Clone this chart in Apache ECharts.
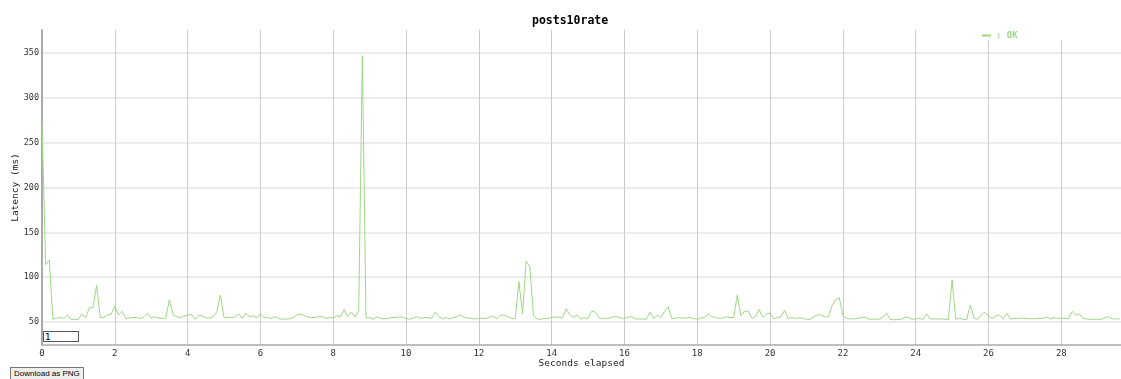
<!DOCTYPE html>
<html>
<head>
<meta charset="utf-8">
<script src="https://cdn.jsdelivr.net/npm/echarts@6/dist/echarts.min.js"></script>
<style>
  html, body { margin: 0; padding: 0; background: #fff; }
  #wrap { position: relative; width: 1121px; height: 379px; overflow: hidden; }
  #chart { position: absolute; left: 0; top: 0; width: 1121px; height: 379px; }
  #num { position: absolute; left: 43px; top: 331px; width: 32px; height: 9px; font: 9px "DejaVu Sans", sans-serif; border: 1px solid #555; padding: 0 1px; margin: 0; outline: none; }
  #dl { position: absolute; left: 10px; top: 367px; height: 14px; padding: 0 3px; font: 8px "Liberation Sans", Arial, sans-serif; border: 1px solid #777; background: #eee; color: #000; line-height: 12px; }
</style>
</head>
<body>
<div id="wrap">
  <div id="chart"></div>
  <input id="num" type="text" value="1">
  <button id="dl">Download as PNG</button>
</div>
<script>
// ---- data ----
const titleText = 'posts10rate';
const seriesName = 'OK';
const xAxisName = 'Seconds elapsed';
const yAxisName = 'Latency (ms)';
const sampleStepSec = 0.1;           // one sample every 0.1 s, starting at 0
const latencyMs = [
  272,114,119,53,54.5,55,54,58,53,53,
  53,59,54.5,66,66,91,55,55,58,59,
  68,58,62,54,54.5,55,55,54,56,60,
  54,56,54.5,54,54.5,75,58,56,54.5,57,
  57,59,53,57,57,54.5,54.5,56,61,80,
  55,55,55,55.5,59,54,60,56,57,54.5,
  59,55,55,54,56,54,53,53.5,53.5,55,
  58,59,57.5,55.5,55,55,56,56,54,55,
  54.5,57,56,64,56,61,55.5,62,347,54.5,
  55,53,56,54,53.5,54,55,55,55.5,55.5,
  54,53,54.5,56,54,55,55,54,61,56,
  53.5,55,53.5,55,56,58,55,54.5,54,53.5,
  54,54,54,55.5,56.5,53.5,58,57.5,56,54,
  54,95,59,118,112,57,53.5,53,54,54,
  55,55.5,55.5,55,65,58,55,58,53,55,
  54,62,61,55,53.5,54,54.5,56,56,54.5,
  54,55.5,56,53.5,53.5,53.5,53,61,54,57.5,
  55,62,67,54,54,55,54.5,54.5,55,54,
  53,54.5,55,59,56,55,54,54.5,56,55,
  55,80,57,62,62,54,56,64,55,59,
  60,53.5,55,56,63,54,55,54,54.5,54.5,
  53,53,56,58,58,55.5,56,68,75,77,
  57.5,54,53.5,53.5,54,55,55.5,53.5,53,53.5,
  53,55.5,60,53,52.5,53,53,55,55.5,53,
  53.5,54.5,52.5,59,53.5,53.5,53.5,53.5,53,53,
  97,53,54.5,53,53,69,54.5,53,58,61,
  56.5,54,56.5,58,53.5,59.5,53.5,54,54,54.5,
  54,54,53.5,54,54,54,55.5,53.5,55,54,
  54.5,54,54,62,57.5,59,54,53.5,53,53,
  53,53,55,56,53.5,53.5,53.5
];
const xTicks = [0,2,4,6,8,10,12,14,16,18,20,22,24,26,28];
const yTicks = [50,100,150,200,250,300,350];

// ---- build ----
const points = latencyMs.map((v, i) => [Math.round(i * sampleStepSec * 10) / 10, v]);
const mono = '"DejaVu Sans Mono", monospace';
const green = '#9cd983';

const chart = echarts.init(document.getElementById('chart'), null, { renderer: 'canvas' });
chart.setOption({
  animation: false,
  backgroundColor: '#fff',
  title: {
    text: titleText, left: 527, top: 10,
    textStyle: { fontFamily: mono, fontSize: 11.5, fontWeight: 'bold', color: '#000' }
  },
  legend: {
    data: [seriesName], left: 982, top: 31, padding: 0, z: 10,
    icon: 'rect', itemWidth: 9, itemHeight: 2, itemGap: 4,
    formatter: ': {name}',
    textStyle: { fontFamily: mono, fontSize: 9, fontWeight: 'bold', color: green }
  },
  graphic: [{
    type: 'rect', z: 1, silent: true,
    shape: { x: 950, y: 29, width: 171, height: 11 },
    style: { fill: '#fff' }
  }],
  grid: { left: 42, right: 0, top: 30, bottom: 34, containLabel: false, outerBoundsMode: 'none' },
  xAxis: {
    type: 'value', min: 0, max: 29.64, interval: 2,
    name: xAxisName, nameLocation: 'middle', nameGap: 13.5, nameMoveOverlap: false,
    nameTextStyle: { fontFamily: mono, fontSize: 9.5, color: '#222' },
    axisLine: { show: true, lineStyle: { color: '#aaa', width: 1.5 } },
    axisTick: { show: false },
    axisLabel: {
      margin: 4, fontFamily: mono, fontSize: 9, color: '#333',
      formatter: v => xTicks.includes(v) ? String(v) : ''
    },
    splitLine: { show: true, showMinLine: false, showMaxLine: false, lineStyle: { color: '#ccc', width: 1 } }
  },
  yAxis: {
    type: 'value', min: 24.4, max: 375.6, splitNumber: 7,
    name: yAxisName, nameLocation: 'middle', nameGap: 21, nameMoveOverlap: false,
    nameTextStyle: { fontFamily: mono, fontSize: 9.5, color: '#222' },
    axisLine: { show: true, lineStyle: { color: '#aaa', width: 2 } },
    axisTick: { show: false },
    axisLabel: {
      margin: 3, fontFamily: mono, fontSize: 8.5, color: '#333',
      showMinLabel: false, showMaxLabel: false,
      formatter: v => yTicks.includes(v) ? String(v) : ''
    },
    splitLine: { show: true, showMinLine: false, showMaxLine: false, lineStyle: { color: '#ebebeb', width: 2 } }
  },
  series: [{
    name: seriesName, type: 'line', data: points,
    showSymbol: false, symbol: 'none',
    lineStyle: { color: green, width: 1 },
    itemStyle: { color: green },
    z: 3
  }]
});
</script>
</body>
</html>
